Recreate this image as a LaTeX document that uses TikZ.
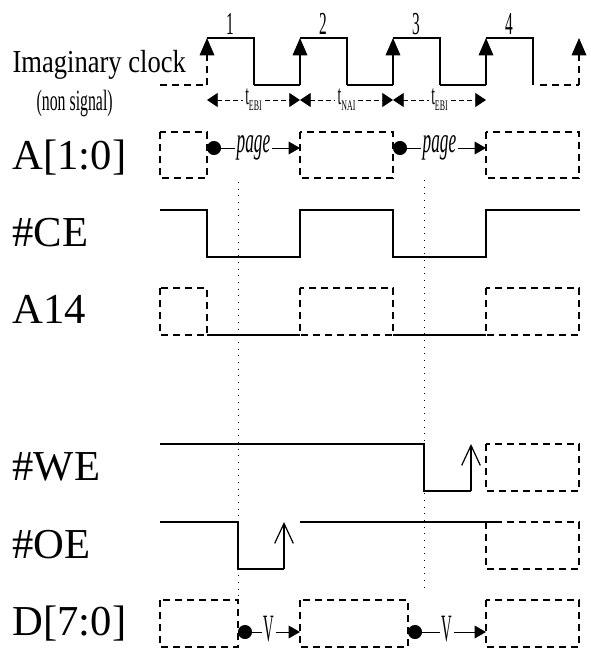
\documentclass[tikz,border=0pt]{standalone}
\usepackage{fontspec}
\setmainfont{Liberation Serif}
\newfontfamily\clockfont[FakeStretch=0.83]{Liberation Serif}
\newfontfamily\slimfont[FakeStretch=0.54]{Liberation Serif}
\newfontfamily\narrowfont[FakeStretch=0.48]{Liberation Serif}
\newfontfamily\vslimfont[FakeStretch=0.38]{Liberation Serif}
\usetikzlibrary{arrows.meta, positioning}
\newcommand{\tlab}[1]{t\raisebox{-4.5pt}{\slimfont\fontsize{11}{11}\selectfont #1}}

\begin{document}
\begin{tikzpicture}[x=.75pt, y=-.75pt, line width=.9pt,
  >={Triangle[length=13pt,width=11pt]},
  dsh/.style={dash pattern=on 5.5pt off 3.5pt},
  dotline/.style={line width=.6pt, dash pattern=on .8pt off 4.2pt},
  sig/.style={anchor=base west, inner sep=0, font=\fontsize{32}{32}\selectfont},
  tick/.style={anchor=base, inner sep=0, font=\narrowfont\fontsize{24}{24}\selectfont},
  span/.style={{Triangle[length=8pt,width=10.5pt]}-{Triangle[length=8pt,width=10.5pt]},
    line width=.6pt, dash pattern=on 3.5pt off 2.5pt},
  tspan/.style={fill=white, inner xsep=2pt, inner ysep=0pt, font=\narrowfont\fontsize{21}{21}\selectfont},
  run/.style={{Circle[length=10.5pt]}-{Triangle[length=8.5pt,width=9.5pt]}, line width=.75pt},
  runlbl/.style={fill=white, inner xsep=1.5pt, inner ysep=0pt},
  openup/.style={-{Straight Barb[length=15pt,width=14pt]}}
]
\useasboundingbox (0,0) rectangle (590,653);

% labels
\node[anchor=base west, inner sep=0, font=\clockfont\fontsize{24}{24}\selectfont] (clk) at (12,72) {Imaginary clock};
\node[anchor=base west, inner sep=0, font=\slimfont\fontsize{22}{22}\selectfont] (nonsig) at (36,110) {(non signal)};
\node[sig] (lA) at (12,169) {A[1:0]};
\node[sig] (lCE) at (12,246) {\#CE};
\node[sig] (lA14) at (12,323) {A14};
\node[sig] (lWE) at (12,480) {\#WE};
\node[sig] (lOE) at (12,558) {\#OE};
\node[sig] (lD) at (12,635) {D[7:0]};

% imaginary clock
\draw[dsh] (160,85) -- (207,85);
\draw[dsh,->] (207,85) -- (207,38);
\foreach \x [count=\n] in {207,300,393,486}{
  \draw (\x,38) -- ++(47,0) -- ++(0,47);
  \node[tick] (c\n) at (\x+23,34) {\n};
}
\foreach \x in {254,347,440}{
  \draw (\x,85) -- ++(46,0);
  \draw[->] (\x+46,85) -- (\x+46,38);
}
\draw[dsh] (540,85) -- (579,85);
\draw[dsh,->] (579,85) -- (579,38);

% cycle times
\coordinate (t0) at (207,100);
\coordinate (t1) at (300,100);
\coordinate (t2) at (393,100);
\coordinate (t3) at (486,100);
\draw[span] (t0) -- node[tspan]{\tlab{EBI}} (t1);
\draw[span] (t1) -- node[tspan]{\tlab{NAI}} (t2);
\draw[span] (t2) -- node[tspan]{\tlab{EBI}} (t3);

% A[1:0]
\foreach \a/\b in {160/207, 300/393, 486/579}
  \draw[dsh] (\a,132) rectangle (\b,178);
\coordinate (pa1) at (207,148);
\coordinate (pb1) at (300,148);
\coordinate (pa2) at (393,148);
\coordinate (pb2) at (486,148);
\draw[run] (pa1) -- node[runlbl, font=\narrowfont\itshape\fontsize{27}{27}\selectfont]{page} (pb1);
\draw[run] (pa2) -- node[runlbl, font=\narrowfont\itshape\fontsize{27}{27}\selectfont]{page} (pb2);

% dotted markers
\draw[dotline] (238,182) -- (238,600);
\draw[dotline] (424,180) -- (424,593);

% #CE
\draw (160,210) -- (207,210) -- (207,257) -- (300,257) -- (300,210) -- (393,210)
  -- (393,257) -- (486,257) -- (486,210) -- (580,210);

% A14
\foreach \a/\b in {160/207, 300/393, 486/579}
  \draw[dsh] (\a,288) rectangle (\b,335);
\draw (207,335) -- (300,335);
\draw (393,335) -- (486,335);

% #WE
\draw (160,444) -- (424,444) -- (424,491) -- (471,491);
\draw[openup] (471,491) -- (471,444);
\draw[dsh] (486,444) rectangle (579,491);

% #OE
\draw (160,522) -- (238,522) -- (238,569) -- (284,569);
\draw[openup] (284,569) -- (284,522);
\draw (300,522) -- (497,522);
\draw[dsh] (486,522) rectangle (579,569);

% D[7:0]
\foreach \a/\b in {160/238, 300/408, 486/579}
  \draw[dsh] (\a,600) rectangle (\b,647);
\coordinate (da1) at (238,632);
\coordinate (db1) at (300,632);
\coordinate (da2) at (408,632);
\coordinate (db2) at (486,632);
\draw[run] (da1) -- node[runlbl, yshift=2pt, font=\vslimfont\fontsize{29}{29}\selectfont]{V} (db1);
\draw[run] (da2) -- node[runlbl, yshift=2pt, font=\vslimfont\fontsize{29}{29}\selectfont]{V} (db2);
\end{tikzpicture}
\end{document}
